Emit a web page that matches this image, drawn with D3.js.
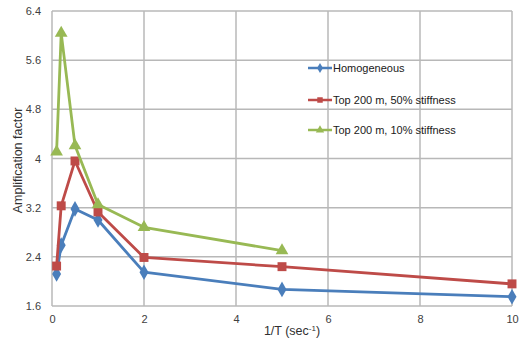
<!DOCTYPE html>
<html>
<head>
<meta charset="utf-8">
<script src="https://cdn.jsdelivr.net/npm/d3@7"></script>
<style>
  html, body { margin: 0; padding: 0; background: #fff; }
  svg { display: block; font-family: "Liberation Sans", Arial, sans-serif; }
</style>
</head>
<body>
<svg id="chart" width="521" height="349"></svg>
<script>
// Frequency (1/T) at which amplification was evaluated
const freq = [0.1, 0.2, 0.5, 1, 2, 5, 10];
const freqGreen = [0.1, 0.2, 0.5, 1, 2, 5];

const homogeneous = [2.12, 2.59, 3.18, 3.00, 2.15, 1.87, 1.75];
const top50 = [2.25, 3.23, 3.96, 3.13, 2.39, 2.24, 1.96];
const top10 = [4.11, 6.04, 4.21, 3.25, 2.88, 2.50];

const seriesNames = ["Homogeneous", "Top 200 m, 50% stiffness", "Top 200 m, 10% stiffness"];
const seriesColors = ["#4a7ebb", "#be4b48", "#98b954"];
const seriesShapes = [d3.symbolDiamond, d3.symbolSquare, d3.symbolTriangle];

const xTicks = [0, 2, 4, 6, 8, 10];
const yTicks = [1.6, 2.4, 3.2, 4, 4.8, 5.6, 6.4];

const series = [
  { name: seriesNames[0], xs: freq, ys: homogeneous },
  { name: seriesNames[1], xs: freq, ys: top50 },
  { name: seriesNames[2], xs: freqGreen, ys: top10 }
];

const svg = d3.select("#chart");
const m = { left: 52, right: 9, top: 11, bottom: 43 };
const W = 521, H = 349;

const x = d3.scaleLinear().domain([0, 10]).range([m.left, W - m.right]);
const y = d3.scaleLinear().domain([1.6, 6.4]).range([H - m.bottom, m.top]);

const grid = svg.append("g");
grid.selectAll("line.h").data(yTicks).join("line")
  .attr("x1", x(0)).attr("x2", x(10))
  .attr("y1", d => y(d)).attr("y2", d => y(d))
  .attr("stroke", "#b8b8b8").attr("stroke-width", 1.5);
grid.selectAll("line.v").data(xTicks).join("line")
  .attr("y1", y(1.6)).attr("y2", y(6.4))
  .attr("x1", d => x(d)).attr("x2", d => x(d))
  .attr("stroke", "#b8b8b8").attr("stroke-width", 1.5);

// Axes (lines hidden, labels only)
const yAxis = svg.append("g").attr("transform", `translate(${m.left - 8},0)`)
  .call(d3.axisLeft(y).tickValues(yTicks).tickSize(0).tickFormat(d3.format("")));
yAxis.select(".domain").remove();
yAxis.selectAll("text").attr("font-size", 11).attr("fill", "#404040")
  .attr("font-family", "Liberation Sans, Arial, sans-serif");

const xAxis = svg.append("g").attr("transform", `translate(0,${H - m.bottom + 6})`)
  .call(d3.axisBottom(x).tickValues(xTicks).tickSize(0));
xAxis.select(".domain").remove();
xAxis.selectAll("text").attr("font-size", 11).attr("fill", "#404040")
  .attr("font-family", "Liberation Sans, Arial, sans-serif");

// Axis titles
svg.append("text")
  .attr("transform", `translate(22,${(y(1.6) + y(6.4)) / 2 + 2}) rotate(-90)`)
  .attr("text-anchor", "middle").attr("font-size", 12.5).attr("fill", "#303030")
  .text("Amplification factor");

const xt = svg.append("text")
  .attr("x", x(5) + 10).attr("y", 335)
  .attr("text-anchor", "middle").attr("font-size", 12.5).attr("fill", "#303030");
xt.append("tspan").text("1/T (sec");
xt.append("tspan").attr("dy", -4).attr("font-size", 8).text("-1");
xt.append("tspan").attr("dy", 4).text(")");

// Series lines and markers
const line = d3.line().x(d => x(d[0])).y(d => y(d[1]));
series.forEach((s, i) => {
  const pts = s.xs.map((v, k) => [v, s.ys[k]]);
  svg.append("path").datum(pts)
    .attr("d", line).attr("fill", "none")
    .attr("stroke", seriesColors[i]).attr("stroke-width", 2.8)
    .attr("stroke-linejoin", "round");
  svg.append("g").selectAll("path").data(pts).join("path")
    .attr("transform", d => `translate(${x(d[0])},${y(d[1])})`)
    .attr("d", d3.symbol().type(seriesShapes[i]).size(i === 1 ? 80 : 70))
    .attr("fill", seriesColors[i]);
});

// Legend
const legendY = [68, 100, 130];
series.forEach((s, i) => {
  const g = svg.append("g").attr("transform", `translate(308,${legendY[i]})`);
  g.append("line").attr("x1", 0).attr("x2", 24).attr("y1", 0).attr("y2", 0)
    .attr("stroke", seriesColors[i]).attr("stroke-width", 2.5);
  g.append("path").attr("transform", "translate(12,0)")
    .attr("d", d3.symbol().type(seriesShapes[i]).size(30))
    .attr("fill", seriesColors[i]);
  g.append("text").attr("x", 25).attr("y", 4)
    .attr("font-size", 11).attr("fill", "#202020").text(s.name);
});
</script>
</body>
</html>
